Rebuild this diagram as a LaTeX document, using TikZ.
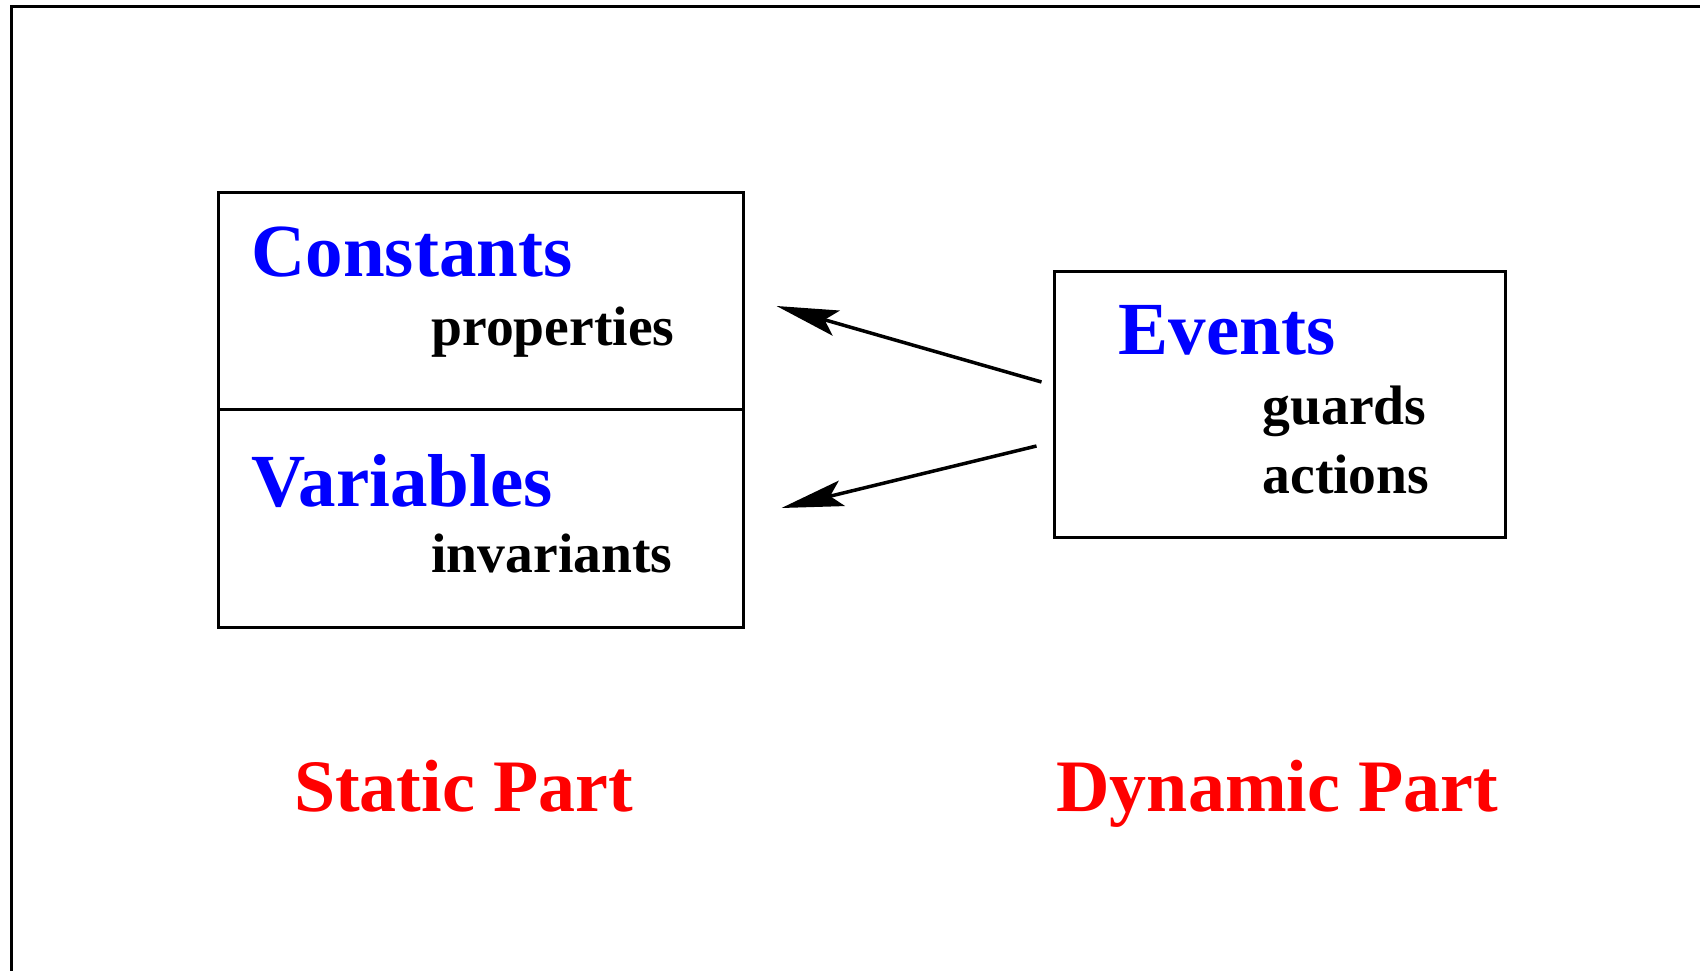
\documentclass[tikz,border=0pt]{standalone}
\usepackage{fontspec}
\setmainfont{Liberation Serif}
\usetikzlibrary{positioning,arrows.meta}

\begin{document}
\begin{tikzpicture}[x=1pt, y=-1pt, line width=3pt,
  box node/.style={rectangle, draw, inner sep=0pt},
  title node/.style={anchor=base west, inner sep=0pt, font=\fontsize{75}{80}\selectfont\bfseries, text=blue},
  item node/.style={anchor=base west, inner sep=0pt, font=\fontsize{55.6}{60}\selectfont\bfseries},
  part node/.style={anchor=base west, inner sep=0pt, font=\fontsize{74}{80}\selectfont\bfseries, text=red},
  link/.style={line width=3.5pt, -{Stealth[length=62pt, width=26pt, inset=12pt]}}]

  \useasboundingbox (0,0) rectangle (1700,971);
  % Frame (cut at right and bottom)
  \draw (1700,6.5) -| (11.5,971);

  % Define boxes
  \node[box node, minimum width=525pt, minimum height=217pt] (consts) at (480.5,300.5) {};
  \node[box node, minimum width=525pt, minimum height=218pt] (vars) at (480.5,518) {};
  \node[box node, minimum width=451pt, minimum height=266pt] (events) at (1279.5,404) {};

  % Define texts
  \node[title node] (constsT) at (250,276.5) {Constants};
  \node[item node] (propsT) at (430,345) {properties};
  \node[title node] (varsT) at (250,506) {Variables};
  \node[item node] (invsT) at (430,572.5) {invariants};
  \node[title node] (eventsT) at (1117,354.5) {Events};
  \node[item node] (guardsT) at (1261,424) {guards};
  \node[item node] (actionsT) at (1261,493.5) {actions};
  \node[part node] (staticT) at (292.5,811) {Static Part};
  \node[part node] (dynamicT) at (1055,811) {Dynamic Part};

  % Define edges
  \draw[link] ([xshift=-11pt,yshift=22pt]events.west) -- ([xshift=32pt,yshift=-5.5pt]consts.east);
  \draw[link] ([xshift=-16pt,yshift=-42pt]events.west) -- ([xshift=37pt,yshift=10pt]vars.east);
\end{tikzpicture}
\end{document}
